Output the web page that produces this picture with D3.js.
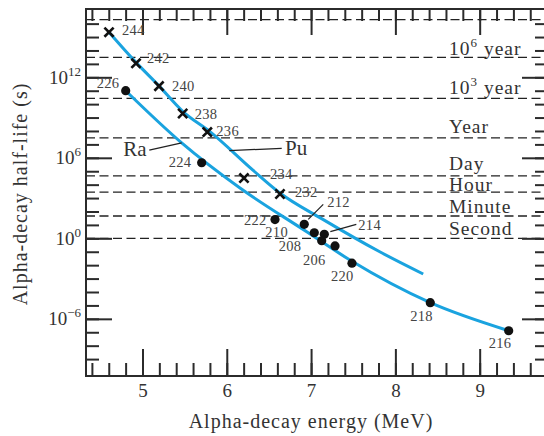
<!DOCTYPE html>
<html><head><meta charset="utf-8">
<script src="https://cdn.jsdelivr.net/npm/d3@7"></script>
<style>html,body{margin:0;padding:0;background:#fff;} svg{display:block;}</style>
</head><body><svg id="c" width="544" height="436"></svg>
<script>
// ---- data ----
const puIsotopes  = [244, 242, 240, 238, 236, 234, 232];
const puEnergy    = [4.603, 4.923, 5.196, 5.477, 5.769, 6.204, 6.631];      // MeV
const puHalfLife  = [2.3e15, 1.1e13, 2.2e11, 2.0e9, 8.3e7, 3.1e4, 2.0e3];   // s

const raIsotopes  = [226, 224, 222, 212, 210, 214, 208, 206, 220, 218, 216];
const raEnergy    = [4.801, 5.702, 6.572, 6.919, 7.038, 7.157, 7.126, 7.284, 7.485, 8.414, 9.344];
const raHalfLife  = [1.0e11, 4.3e5, 25, 11, 2.6, 2.0, 0.66, 0.27, 0.014, 1.6e-5, 1.3e-7];

const puFitEnergy   = [4.603, 4.923, 5.19, 5.48, 5.80, 6.31, 6.63, 7.13, 7.82, 8.33];
const puFitHalfLife = [2.3e15, 1.3e13, 2.5e11, 2.8e9, 8.9e7, 1.2e5, 2.4e3, 28, 0.095, 2.2e-3];
const raFitEnergy   = [4.801, 5.465, 6.157, 6.948, 7.466, 8.414, 9.344];
const raFitHalfLife = [1.0e11, 1.3e7, 5.6e3, 3.1, 0.023, 1.6e-5, 1.3e-7];

const xTickLabels    = [5, 6, 7, 8, 9];
const yTickExponents = [-6, 0, 6, 12];

const refLabels  = ["", "10^6 year", "10^3 year", "Year", "Day", "Hour", "Minute", "Second"];
const refSeconds = [2.0e16, 3.1e13, 2.7e10, 3.1e7, 4.5e4, 2.8e3, 46, 1];

// ---- layout / style ----
const L = 86, R = 544, T = 9, B = 376;
const FONT = "'Liberation Serif','Times New Roman',serif";
const AX = "#2b2b2b", TXT = "#333", BLUE = "#1aa3df";
const refLabelLift = [0, 2, 4, 5, 6, 1.5, 3.5, 3];

const svg = d3.select("#c");
const x = d3.scaleLinear().domain([4.33, 9.763]).range([L, R]);
const y = d3.scaleLog().domain([Math.pow(10, -10.26), Math.pow(10, 17.09)]).range([B, T]);

const minorX = d3.range(4.4, 9.61, 0.2).map(v => +v.toFixed(1));
const minorY = d3.range(-9, 17).map(e => Math.pow(10, e));
const majorY = yTickExponents.map(e => Math.pow(10, e));

// reference dashed lines
const refG = svg.append("g");
refSeconds.forEach((s, i) => {
  refG.append("line").attr("x1", L).attr("x2", R).attr("y1", y(s)).attr("y2", y(s))
    .attr("stroke", "#222").attr("stroke-width", 1.3).attr("stroke-dasharray", "9,4.5");
});
refSeconds.forEach((s, i) => {
  const lab = refLabels[i];
  if (!lab) return;
  const t = refG.append("text").attr("x", 449).attr("y", y(s) - refLabelLift[i])
    .attr("font-family", FONT).attr("font-size", 19.5).attr("letter-spacing", 1).attr("fill", TXT);
  const m = lab.match(/^(\d+)\^(\d+)\s(.*)$/);
  if (m) {
    t.append("tspan").text(m[1]);
    t.append("tspan").attr("dy", -8).attr("font-size", 13).text(m[2]);
    t.append("tspan").attr("dy", 8).text(" " + m[3]);
  } else t.text(lab);
});

// axes
function styleAxis(g) {
  g.select(".domain").remove();
  g.selectAll(".tick line").attr("stroke", AX).attr("stroke-width", 2);
  g.selectAll("text").attr("font-family", FONT).attr("fill", TXT);
}
svg.append("g").attr("transform", `translate(0,${B})`)
  .call(d3.axisBottom(x).tickValues(minorX).tickSize(-13).tickFormat("")).call(styleAxis);
svg.append("g").attr("transform", `translate(0,${B})`)
  .call(d3.axisBottom(x).tickValues(xTickLabels).tickSize(-27).tickPadding(8).tickFormat(d3.format("d")))
  .call(styleAxis).call(g => g.selectAll("text").attr("font-size", 19));
svg.append("g").attr("transform", `translate(0,${T})`)
  .call(d3.axisTop(x).tickValues(minorX).tickSize(-12).tickFormat("")).call(styleAxis);
svg.append("g").attr("transform", `translate(0,${T})`)
  .call(d3.axisTop(x).tickValues(xTickLabels).tickSize(-26).tickFormat("")).call(styleAxis);
svg.append("g").attr("transform", `translate(${L},0)`)
  .call(d3.axisLeft(y).tickValues(minorY).tickSize(-13).tickFormat("")).call(styleAxis);
svg.append("g").attr("transform", `translate(${L},0)`)
  .call(d3.axisLeft(y).tickValues(majorY).tickSize(-26).tickFormat("")).call(styleAxis);
svg.append("g").attr("transform", `translate(${R},0)`)
  .call(d3.axisRight(y).tickValues(minorY).tickSize(-9).tickFormat("")).call(styleAxis);
svg.append("g").attr("transform", `translate(${R},0)`)
  .call(d3.axisRight(y).tickValues(majorY).tickSize(-22).tickFormat("")).call(styleAxis);

// frame (top, left, bottom)
svg.append("path").attr("d", `M${R},${T}H${L}V${B}H${R}`)
  .attr("fill", "none").attr("stroke", AX).attr("stroke-width", 2);

// y tick labels with superscripts
yTickExponents.forEach(e => {
  const t = svg.append("text").attr("x", L - 5).attr("y", y(Math.pow(10, e)) + 6.5)
    .attr("text-anchor", "end").attr("font-family", FONT).attr("font-size", 19).attr("fill", TXT);
  t.append("tspan").text("10");
  t.append("tspan").attr("dy", -8).attr("font-size", 13).text(String(e).replace("-", "\u2212"));
});

// axis titles
svg.append("text").attr("x", 311).attr("y", 428).attr("text-anchor", "middle")
  .attr("font-family", FONT).attr("font-size", 20).attr("letter-spacing", 1).attr("fill", TXT)
  .text("Alpha-decay energy (MeV)");
svg.append("text").attr("transform", "translate(26.5,194) rotate(-90)").attr("text-anchor", "middle")
  .attr("font-family", FONT).attr("font-size", 20).attr("letter-spacing", 1).attr("fill", TXT)
  .text("Alpha-decay half-life (s)");

// fitted curves
const line = d3.line().x(d => x(d[0])).y(d => y(d[1])).curve(d3.curveMonotoneX);
svg.append("path").datum(d3.zip(puFitEnergy, puFitHalfLife)).attr("d", line)
  .attr("fill", "none").attr("stroke", BLUE).attr("stroke-width", 3);
svg.append("path").datum(d3.zip(raFitEnergy, raFitHalfLife)).attr("d", line)
  .attr("fill", "none").attr("stroke", BLUE).attr("stroke-width", 3);

// label offsets (layout)
const puLabelOff = {244:[13,3],242:[11,0],240:[13,5],238:[12,5],236:[9,4],234:[26,1],232:[15,3]};
const raLabelOff = {226:[-29,-3],224:[-33,4],222:[-31,5],212:[23,-17],210:[-49,4],214:[34,-4],
                    208:[-43,10],206:[-32,19],220:[-21,18],218:[-20,18],216:[-20,17]};
const leaders = {212:[4,-5,19,-20], 214:[6,-2.6,32,-10]};

// Pu markers
const s = 4.6;
puIsotopes.forEach((iso, i) => {
  const px = x(puEnergy[i]), py = y(puHalfLife[i]);
  svg.append("path").attr("d", `M${px-s},${py-s}L${px+s},${py+s}M${px-s},${py+s}L${px+s},${py-s}`)
    .attr("stroke", "#111").attr("stroke-width", 2.6);
  const o = puLabelOff[iso];
  svg.append("text").attr("x", px + o[0]).attr("y", py + o[1])
    .attr("font-family", FONT).attr("font-size", 14.5).attr("letter-spacing", 0.3).attr("fill", "#444").text(iso);
});

// Ra markers
raIsotopes.forEach((iso, i) => {
  const px = x(raEnergy[i]), py = y(raHalfLife[i]);
  svg.append("circle").attr("cx", px).attr("cy", py).attr("r", 4.6).attr("fill", "#111");
  const o = raLabelOff[iso];
  svg.append("text").attr("x", px + o[0]).attr("y", py + o[1])
    .attr("font-family", FONT).attr("font-size", 14.5).attr("letter-spacing", 0.3).attr("fill", "#444").text(iso);
  if (leaders[iso]) {
    const l = leaders[iso];
    svg.append("line").attr("x1", px + l[0]).attr("y1", py + l[1]).attr("x2", px + l[2]).attr("y2", py + l[3])
      .attr("stroke", "#222").attr("stroke-width", 1.3);
  }
});

// series name annotations
const raAnchor = [x(5.465), y(1.3e7)];
svg.append("line").attr("x1", raAnchor[0] - 32.4).attr("y1", raAnchor[1] + 7.3)
  .attr("x2", raAnchor[0]).attr("y2", raAnchor[1]).attr("stroke", "#222").attr("stroke-width", 1.3);
svg.append("text").attr("x", raAnchor[0] - 58.5).attr("y", raAnchor[1] + 13.3)
  .attr("font-family", FONT).attr("font-size", 21).attr("fill", TXT).text("Ra");
const puAnchor = [x(6.03), y(3.4e6)];
svg.append("line").attr("x1", puAnchor[0]).attr("y1", puAnchor[1])
  .attr("x2", puAnchor[0] + 52.4).attr("y2", puAnchor[1] - 2.4).attr("stroke", "#222").attr("stroke-width", 1.3);
svg.append("text").attr("x", puAnchor[0] + 55.7).attr("y", puAnchor[1] + 4.3)
  .attr("font-family", FONT).attr("font-size", 21).attr("fill", TXT).text("Pu");
</script></body></html>
